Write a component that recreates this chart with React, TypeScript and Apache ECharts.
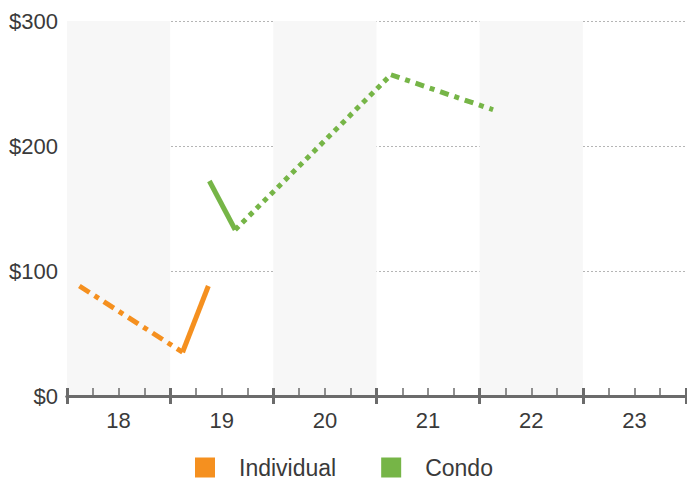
import React, { useEffect, useRef } from "react";
import * as echarts from "echarts";

const categories = ["18", "19", "20", "21", "22", "23"];
const yTicks = [0, 100, 200, 300];

// x positions are measured in category bands (0 = left edge of "18", 6 = right edge of "23")
const individualDashX = [0.12, 1.12];
const individualDashY = [88, 35];
const individualSolidX = [1.12, 1.37];
const individualSolidY = [35, 88];

const condoSolidX = [1.38, 1.63];
const condoSolidY = [172, 133];
const condoDotX = [1.63, 3.14];
const condoDotY = [133, 257];
const condoDashDotX = [3.14, 4.13];
const condoDashDotY = [257, 229];

const ORANGE = "#f5901f";
const GREEN = "#76b547";

const pts = (xs: number[], ys: number[]) => xs.map((x, i) => [x, ys[i]]);

export default function App() {
  const ref = useRef<HTMLDivElement>(null);
  useEffect(() => {
    if (!ref.current) return;
    const chart = echarts.init(ref.current, null, { renderer: "svg" });
    const font = "'Liberation Sans', Arial, sans-serif";
    const lineSeries = (name: string, data: number[][], color: string, type: any) => ({
      name,
      type: "line",
      xAxisIndex: 1,
      data,
      symbol: "none",
      silent: true,
      lineStyle: { color, width: 5, type, cap: "butt", join: "miter" },
      itemStyle: { color },
    });
    chart.setOption({
      animation: false,
      textStyle: { fontFamily: font },
      grid: { left: 67, right: 1, top: 21, bottom: 86, containLabel: false },
      xAxis: [
        {
          type: "category",
          data: categories,
          boundaryGap: true,
          axisLine: { show: true, lineStyle: { color: "#6b6b6b", width: 3 } },
          axisTick: { show: true, length: 8, inside: false, lineStyle: { color: "#6b6b6b", width: 3 } },
          axisLabel: { color: "#3a3a3a", fontSize: 22, margin: 13, fontFamily: font },
          splitLine: { show: false },
          splitArea: { show: true, areaStyle: { color: ["#f7f7f7", "rgba(255,255,255,0)"] } },
        },
        {
          type: "value",
          min: 0,
          max: 6,
          interval: 1,
          position: "bottom",
          axisLine: { show: true, onZero: false, lineStyle: { color: "#6b6b6b", width: 3 } },
          axisTick: { show: true, inside: true, length: 8, lineStyle: { color: "#6b6b6b", width: 3 } },
          minorTick: { show: true, splitNumber: 4, length: 8, lineStyle: { color: "#6b6b6b", width: 1.5 } },
          axisLabel: { show: false },
          splitLine: { show: false },
          minorSplitLine: { show: false },
        },
      ],
      yAxis: {
        type: "value",
        min: yTicks[0],
        max: yTicks[yTicks.length - 1],
        interval: 100,
        axisLine: { show: false },
        axisTick: { show: false },
        axisLabel: {
          color: "#3a3a3a",
          fontSize: 22,
          margin: 9,
          fontFamily: font,
          formatter: (v: number) => "$" + v,
        },
        splitLine: { show: true, lineStyle: { color: "#b5b5b5", type: [2, 2], width: 1 } },
      },
      legend: {
        data: [
          { name: "Individual", itemStyle: { color: ORANGE } },
          { name: "Condo", itemStyle: { color: GREEN } },
        ],
        icon: "rect",
        itemWidth: 20,
        itemHeight: 20,
        itemGap: 45,
        top: 451,
        left: 190,
        textStyle: { fontSize: 23, color: "#3a3a3a", fontFamily: font, padding: [0, 0, 0, 19] },
        selectedMode: false,
      },
      series: [
        lineSeries("Individual", pts(individualDashX, individualDashY), ORANGE, [12, 6, 5, 6]),
        lineSeries("Individual", pts(individualSolidX, individualSolidY), ORANGE, "solid"),
        lineSeries("Condo", pts(condoSolidX, condoSolidY), GREEN, "solid"),
        lineSeries("Condo", pts(condoDotX, condoDotY), GREEN, [5, 5]),
        lineSeries("Condo", pts(condoDashDotX, condoDashDotY), GREEN, [9, 6, 5, 6]),
      ],
    });
    return () => chart.dispose();
  }, []);
  return <div ref={ref} style={{ width: 687, height: 482, position: "absolute", left: 0, top: 0 }} />;
}
